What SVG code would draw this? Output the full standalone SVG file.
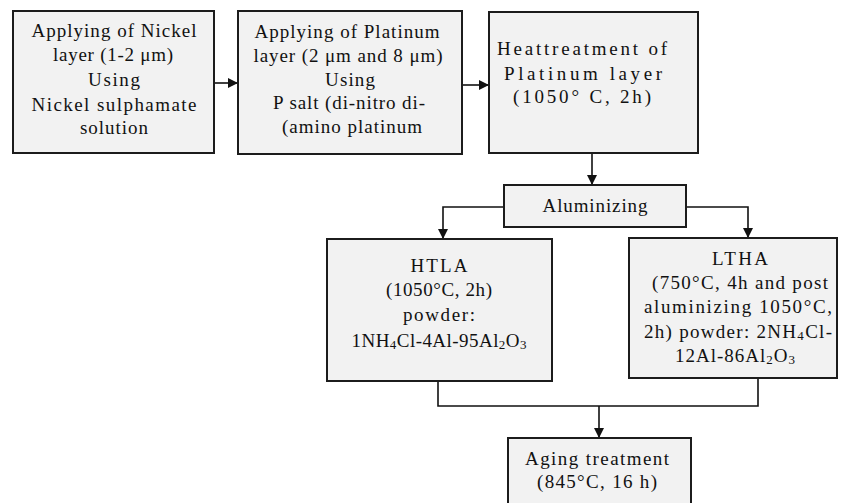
<svg xmlns="http://www.w3.org/2000/svg" width="842" height="503" viewBox="0 0 842 503">
<defs>
<marker id="ah" viewBox="0 0 10 10" refX="10" refY="5" markerWidth="10" markerHeight="10" markerUnits="userSpaceOnUse" orient="auto">
<path d="M0,0 L10,5 L0,10 z" fill="#111"/>
</marker>
<style>
.box{fill:#f2f2f2;stroke:#1c1c1c;stroke-width:2}
.t{font-family:'Liberation Serif','DejaVu Serif',serif;font-size:19px;fill:#111;text-anchor:middle}
.sub{font-size:13px}
.c{fill:none;stroke:#111;stroke-width:1.6}
</style>
</defs>
<rect width="842" height="503" fill="#ffffff"/>
<g id="connectors">
<path class="c" d="M214,83 H238" marker-end="url(#ah)"/>
<path class="c" d="M462,85 H489" marker-end="url(#ah)"/>
<path class="c" d="M592,153 V185" marker-end="url(#ah)"/>
<path class="c" d="M504,207 H443 V239" marker-end="url(#ah)"/>
<path class="c" d="M686,207 H748 V238" marker-end="url(#ah)"/>
<path class="c" d="M438,381 V406 H758 V378"/>
<path class="c" d="M599,406 V438" marker-end="url(#ah)"/>
</g>
<g id="nickel">
<rect class="box" x="13" y="11" width="201" height="142"/>
<text class="t" x="114" y="37" textLength="165" lengthAdjust="spacing">Applying of Nickel</text>
<text class="t" x="113" y="61" textLength="120" lengthAdjust="spacing">layer (1-2 μm)</text>
<text class="t" x="114" y="86" textLength="52" lengthAdjust="spacing">Using</text>
<text class="t" x="114" y="111" textLength="165" lengthAdjust="spacing">Nickel sulphamate</text>
<text class="t" x="114" y="134" textLength="68" lengthAdjust="spacing">solution</text>
</g>
<g id="platinum">
<rect class="box" x="238" y="11" width="224" height="143"/>
<text class="t" x="347" y="38" textLength="185" lengthAdjust="spacing">Applying of Platinum</text>
<text class="t" x="348" y="62" textLength="189" lengthAdjust="spacing">layer (2 μm and 8 μm)</text>
<text class="t" x="350" y="86" textLength="50" lengthAdjust="spacing">Using</text>
<text class="t" x="349" y="109" textLength="152" lengthAdjust="spacing">P salt (di-nitro di-</text>
<text class="t" x="352" y="133" textLength="140" lengthAdjust="spacing">(amino platinum</text>
</g>
<g id="heat">
<rect class="box" x="489" y="12" width="209" height="141"/>
<text class="t" x="582" y="55" textLength="170" lengthAdjust="spacing">Heattreatment of</text>
<text class="t" x="583" y="80" textLength="158" lengthAdjust="spacing">Platinum layer</text>
<text class="t" x="582" y="103" textLength="138" lengthAdjust="spacing">(1050° C, 2h)</text>
</g>
<g id="aluminizing">
<rect class="box" x="504" y="185" width="182" height="42"/>
<text class="t" x="595" y="212" textLength="105" lengthAdjust="spacing">Aluminizing</text>
</g>
<g id="htla">
<rect class="box" x="327" y="239" width="225" height="142"/>
<text class="t" x="439" y="272" textLength="57" lengthAdjust="spacing">HTLA</text>
<text class="t" x="439" y="296" textLength="106" lengthAdjust="spacing">(1050°C, 2h)</text>
<text class="t" x="439" y="321" textLength="72" lengthAdjust="spacing">powder:</text>
<text class="t" x="439" y="347" textLength="175" lengthAdjust="spacing">1NH<tspan class="sub" dy="2">4</tspan><tspan dy="-2">Cl-4Al-95Al</tspan><tspan class="sub" dy="2">2</tspan><tspan dy="-2">O</tspan><tspan class="sub" dy="2">3</tspan></text>
</g>
<g id="ltha">
<rect class="box" x="629" y="238" width="208" height="140"/>
<text class="t" x="740" y="265" textLength="56" lengthAdjust="spacing">LTHA</text>
<text class="t" x="740" y="289" textLength="176" lengthAdjust="spacing">(750°C, 4h and post</text>
<text class="t" x="738" y="313" textLength="188" lengthAdjust="spacing">aluminizing 1050°C,</text>
<text class="t" x="738" y="338" textLength="188" lengthAdjust="spacing">2h) powder: 2NH<tspan class="sub" dy="2">4</tspan><tspan dy="-2">Cl-</tspan></text>
<text class="t" x="735" y="362" textLength="120" lengthAdjust="spacing">12Al-86Al<tspan class="sub" dy="2">2</tspan><tspan dy="-2">O</tspan><tspan class="sub" dy="2">3</tspan></text>
</g>
<g id="aging">
<rect class="box" x="508" y="438" width="183" height="75"/>
<text class="t" x="597" y="465" textLength="144" lengthAdjust="spacing">Aging treatment</text>
<text class="t" x="597" y="488" textLength="120" lengthAdjust="spacing">(845°C, 16 h)</text>
</g>
</svg>
